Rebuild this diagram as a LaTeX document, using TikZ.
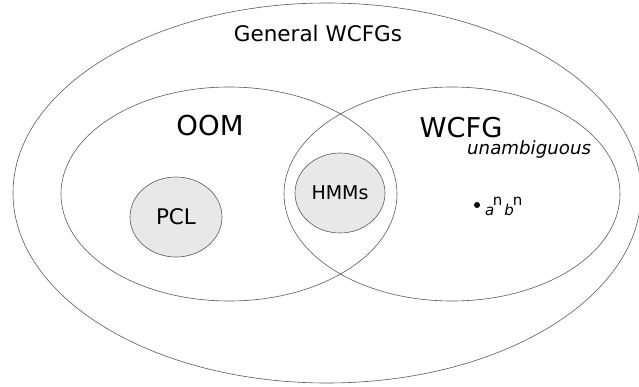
\documentclass[tikz,border=0pt]{standalone}
\usepackage{fontspec}
\setmainfont{DejaVu Sans}
\usetikzlibrary{shapes.geometric}

\begin{document}
\begin{tikzpicture}[x=1pt,y=1pt,
    set/.style={ellipse, draw=black!65, line width=0.6pt, inner sep=0pt},
    subset/.style={set, fill=black!9},
    lbl/.style={inner sep=0pt, anchor=base}]
    \useasboundingbox (0,0) rectangle (639,386);
    \node[set, minimum width=628pt, minimum height=380pt] (general) at (327,193) {};
    \node[set, minimum width=336pt, minimum height=214pt] (oom) at (229,192) {};
    \node[set, minimum width=336pt, minimum height=214pt] (wcfg) at (452,192) {};
    \node[subset, minimum width=92pt, minimum height=80pt, font=\fontsize{21.5}{24}\selectfont] (pcl) at (176,169) {PCL};
    \node[subset, minimum width=90pt, minimum height=80pt, font=\fontsize{19}{21}\selectfont] (hmm) at (340,193) {HMMs};
    % labels
    \node[lbl, font=\fontsize{21.5}{25}\selectfont] (generallbl) at (318,344) {General WCFGs};
    \node[lbl, font=\fontsize{27.5}{32}\selectfont] (oomlbl) at (210,250) {OOM};
    \node[lbl, font=\fontsize{27.3}{32}\selectfont] (wcfglbl) at (461,248) {WCFG};
    \node[lbl, anchor=base west, font=\fontsize{18.2}{21}\selectfont\itshape] (unamb) at (467,231) {unambiguous};
    \node[circle, fill=black, inner sep=0pt, minimum size=6pt] (anbn) at (477,181) {};
    \node[lbl, anchor=base west, font=\fontsize{15}{18}\selectfont] (anbnlbl) at (485,171)
        {\textit{a}\kern-1.5pt\raisebox{10pt}{n}\kern2pt\textit{b}\kern-1pt\raisebox{10pt}{n}};
\end{tikzpicture}
\end{document}
